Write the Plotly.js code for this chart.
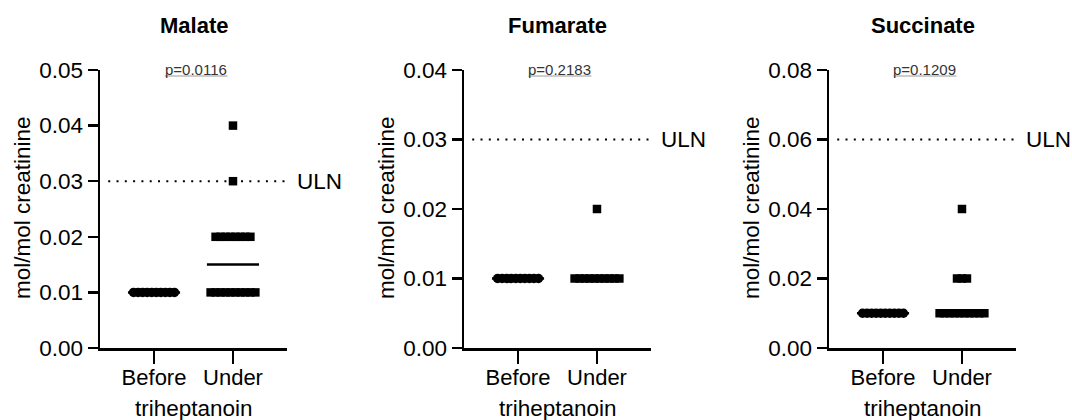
<!DOCTYPE html>
<html>
<head>
<meta charset="utf-8">
<script src="https://cdn.plot.ly/plotly-3.0.1.min.js"></script>
<style>html,body{margin:0;padding:0;background:#fff;}#chart{width:1072px;height:420px;}</style>
</head>
<body>
<div id="chart"></div>
<script>
// ---- data ----
const panelTitles = ['Malate', 'Fumarate', 'Succinate'];
const groupLabels = ['Before', 'Under'];
const xAxisTitle = 'triheptanoin';
const yAxisTitle = 'mol/mol creatinine';

const malateBefore    = [0.01, 0.01, 0.01, 0.01, 0.01, 0.01, 0.01, 0.01, 0.01, 0.01];
const malateUnder     = [0.01, 0.01, 0.01, 0.01, 0.01, 0.01, 0.01, 0.01, 0.01, 0.01,
                         0.02, 0.02, 0.02, 0.02, 0.02, 0.02, 0.02, 0.02, 0.03, 0.04];
const fumarateBefore  = [0.01, 0.01, 0.01, 0.01, 0.01, 0.01, 0.01, 0.01, 0.01, 0.01];
const fumarateUnder   = [0.01, 0.01, 0.01, 0.01, 0.01, 0.01, 0.01, 0.01, 0.01, 0.01, 0.02];
const succinateBefore = [0.01, 0.01, 0.01, 0.01, 0.01, 0.01, 0.01, 0.01, 0.01, 0.01];
const succinateUnder  = [0.01, 0.01, 0.01, 0.01, 0.01, 0.01, 0.01, 0.01, 0.01, 0.01,
                         0.02, 0.02, 0.02, 0.04];

const ulnValues = [0.03, 0.03, 0.06];
const ulnLabel = 'ULN';
const pValueLabels = ['p=0.0116', 'p=0.2183', 'p=0.1209'];
const yMax = [0.05, 0.04, 0.08];
const yStep = [0.01, 0.01, 0.02];

// ---- layout / styling ----
const W = 1072, H = 420;
const FONT = 'Liberation Sans, Arial, Helvetica, sans-serif';
const plotTop = 70, plotBottom = 348;
const axisLeftPx = [100, 464, 829];
const axisWidthPx = 187;
const xRange = [0.316, 2.684];
const groupX = [1, 2];
const spacing = [0.0575, 0.063];   // horizontal spread between identical values (x units)
const markerSym = ['circle', 'square'];
const markerSize = [9.5, 8.5];
const medianHalf = 0.33;

const panelData = [
  [malateBefore, malateUnder],
  [fumarateBefore, fumarateUnder],
  [succinateBefore, succinateUnder]
];

function median(arr) {
  const s = arr.slice().sort((a, b) => a - b);
  const n = s.length;
  return n % 2 ? s[(n - 1) / 2] : (s[n / 2 - 1] + s[n / 2]) / 2;
}

// spread identical values side by side (column scatter layout)
function spread(values, center, step) {
  const counts = {};
  values.forEach(v => { counts[v] = (counts[v] || 0) + 1; });
  const used = {};
  const xs = [];
  values.forEach(v => {
    const n = counts[v];
    const i = used[v] || 0;
    used[v] = i + 1;
    xs.push(center + (i - (n - 1) / 2) * step);
  });
  return xs;
}

const traces = [];
const shapes = [];
const annotations = [];
const layout = {
  width: W, height: H,
  margin: {l: 0, r: 0, t: 0, b: 0},
  paper_bgcolor: '#fff', plot_bgcolor: '#fff',
  showlegend: false,
  font: {family: FONT, size: 22, color: '#000'}
};

panelData.forEach((groups, p) => {
  const sfx = p === 0 ? '' : String(p + 1);
  const xa = 'x' + sfx, ya = 'y' + sfx;
  const d0 = axisLeftPx[p] / W, d1 = (axisLeftPx[p] + axisWidthPx) / W;

  layout['xaxis' + sfx] = {
    domain: [d0, d1], anchor: ya, range: xRange,
    showgrid: false, zeroline: false, showline: true,
    linecolor: '#000', linewidth: 2.5,
    ticks: 'outside', ticklen: 13, tickwidth: 2.5, tickcolor: '#000',
    tickmode: 'array', tickvals: groupX, ticktext: groupLabels,
    tickfont: {family: FONT, size: 22, color: '#000'},
    ticklabelstandoff: -5
  };
  layout['yaxis' + sfx] = {
    domain: [1 - plotBottom / H, 1 - plotTop / H], anchor: xa,
    range: [0, yMax[p]],
    showgrid: false, zeroline: false, showline: true,
    linecolor: '#000', linewidth: 2.5,
    ticks: 'outside', ticklen: 10, tickwidth: 2.5, tickcolor: '#000',
    tick0: 0, dtick: yStep[p], tickformat: '.2f',
    tickfont: {family: FONT, size: 22.5, color: '#000'}
  };

  // median lines (beneath points)
  groups.forEach((vals, g) => {
    const m = median(vals);
    traces.push({
      type: 'scatter', mode: 'lines', xaxis: xa, yaxis: ya,
      x: [groupX[g] - medianHalf, groupX[g] + medianHalf], y: [m, m],
      line: {color: '#000', width: 2.5}, hoverinfo: 'skip'
    });
  });

  // points
  groups.forEach((vals, g) => {
    traces.push({
      type: 'scatter', mode: 'markers', xaxis: xa, yaxis: ya,
      x: spread(vals, groupX[g], spacing[g]), y: vals,
      marker: {symbol: markerSym[g], size: markerSize[g], color: '#000', line: {width: 0}},
      cliponaxis: false
    });
  });

  // ULN dotted line
  shapes.push({
    type: 'line', layer: 'below', xref: xa, yref: ya,
    x0: 0.42, x1: xRange[1], y0: ulnValues[p], y1: ulnValues[p],
    line: {color: '#000', width: 2, dash: '2px,6.3px'}
  });
  annotations.push({
    xref: xa, yref: ya, x: xRange[1], y: ulnValues[p],
    xanchor: 'left', yanchor: 'middle', xshift: 8, showarrow: false,
    text: ulnLabel, font: {family: FONT, size: 22.5, color: '#000'}
  });

  // p-value with underline bar
  annotations.push({
    xref: xa, yref: 'paper', x: 1.53, y: 1 - 69.5 / H,
    xanchor: 'center', yanchor: 'middle', showarrow: false,
    text: pValueLabels[p], font: {family: FONT, size: 15, color: '#333'}
  });
  shapes.push({
    type: 'line', xref: xa, yref: 'paper',
    x0: 1.135, x1: 1.93, y0: 1 - 76 / H, y1: 1 - 76 / H,
    line: {color: '#999', width: 1}
  });

  const cx = (axisLeftPx[p] + axisWidthPx / 2) / W;
  // panel title
  annotations.push({
    xref: 'paper', yref: 'paper', x: cx, y: 1 - 25 / H,
    xanchor: 'center', yanchor: 'middle', showarrow: false,
    text: '<b>' + panelTitles[p] + '</b>', font: {family: FONT, size: 22, color: '#000'}
  });
  // x axis title
  annotations.push({
    xref: 'paper', yref: 'paper', x: cx, y: 1 - 408 / H,
    xanchor: 'center', yanchor: 'middle', showarrow: false,
    text: xAxisTitle, font: {family: FONT, size: 22.5, color: '#000'}
  });
  // y axis title
  annotations.push({
    xref: 'paper', yref: 'paper', x: (axisLeftPx[p] - 78) / W, y: 1 - 208 / H,
    xanchor: 'center', yanchor: 'middle', showarrow: false, textangle: -90,
    text: yAxisTitle, font: {family: FONT, size: 22.5, color: '#000'}
  });
});

layout.shapes = shapes;
layout.annotations = annotations;

Plotly.newPlot('chart', traces, layout, {displayModeBar: false, staticPlot: true});
</script>
</body>
</html>
